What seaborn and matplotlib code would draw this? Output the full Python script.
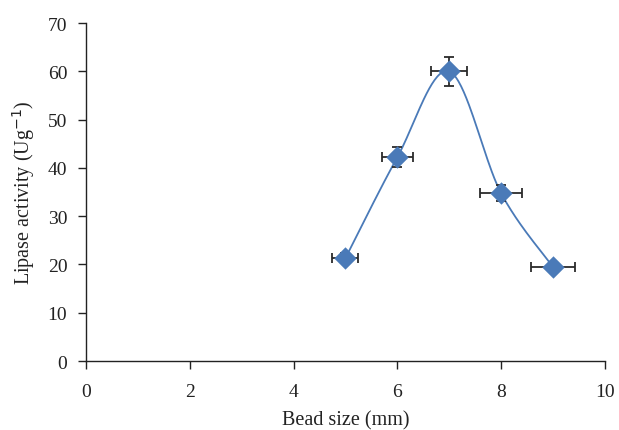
from matplotlib import pyplot as plt
import pandas as pd
import seaborn as sns
import numpy as np

# bead size (mm) and lipase activity (U g^-1)
bead_size = [5, 6, 7, 8, 9]
activity = [21.3, 42.2, 60.0, 34.8, 19.5]
activity_err = [1.0, 2.1, 3.0, 1.6, 0.5]
size_err = [0.25, 0.30, 0.35, 0.40, 0.42]

x_ticks = [0, 2, 4, 6, 8, 10]
y_ticks = [0, 10, 20, 30, 40, 50, 60, 70]

BLUE = "#4a7ab8"


def smooth_curve(xs, ys, n=40):
    """Excel-like smoothed line (bezier through the points)."""
    p = np.column_stack([xs, ys]).astype(float)
    p = np.vstack([p[0], p, p[-1]])
    t = np.linspace(0, 1, n)[:, None]
    out = []
    for i in range(1, len(p) - 2):
        p0, p1 = p[i], p[i + 1]
        c1 = p0 + (p[i + 1] - p[i - 1]) / 6
        c2 = p1 - (p[i + 2] - p[i]) / 6
        seg = (1 - t) ** 3 * p0 + 3 * (1 - t) ** 2 * t * c1 + 3 * (1 - t) * t ** 2 * c2 + t ** 3 * p1
        out.append(seg)
    out = np.vstack(out)
    return out[:, 0], out[:, 1]


df = pd.DataFrame({"size": bead_size, "activity": activity})
cx, cy = smooth_curve(bead_size, activity)
curve = pd.DataFrame({"size": cx, "activity": cy})

sns.set_theme(style="ticks")
plt.rcParams["font.family"] = ["Liberation Serif", "DejaVu Serif"]

fig = plt.figure(figsize=(6.19, 4.31), dpi=100)
ax = fig.add_axes([0.139, 0.16, 0.838, 0.784])

sns.lineplot(data=curve, x="size", y="activity", sort=False, estimator=None,
             color=BLUE, linewidth=1.3, ax=ax)
ax.errorbar(bead_size, activity, xerr=size_err, yerr=activity_err, fmt="none",
            ecolor="#2b2b2b", elinewidth=1.3, capsize=3.6, capthick=1.3, zorder=3)
sns.scatterplot(data=df, x="size", y="activity", marker="D", s=130, color=BLUE,
                edgecolor=BLUE, linewidth=0, ax=ax, zorder=4)

ax.set_xlim(0, 10)
ax.set_ylim(0, 70)
ax.set_xticks(x_ticks)
ax.set_yticks(y_ticks)
ax.set_xlabel("Bead size (mm)", fontsize=14.5, color="#222222", labelpad=8)
ax.set_ylabel("Lipase activity (Ug$^{-1}$)", fontsize=14.5, color="#222222", labelpad=8)
ax.tick_params(labelsize=14, length=5.5, width=1, colors="#222222")
ax.tick_params(axis="x", pad=10)
ax.tick_params(axis="y", pad=8)
for s in ["left", "bottom"]:
    ax.spines[s].set_color("#222222")
    ax.spines[s].set_linewidth(1)
sns.despine(ax=ax)

fig.savefig("out.png", dpi=100)
